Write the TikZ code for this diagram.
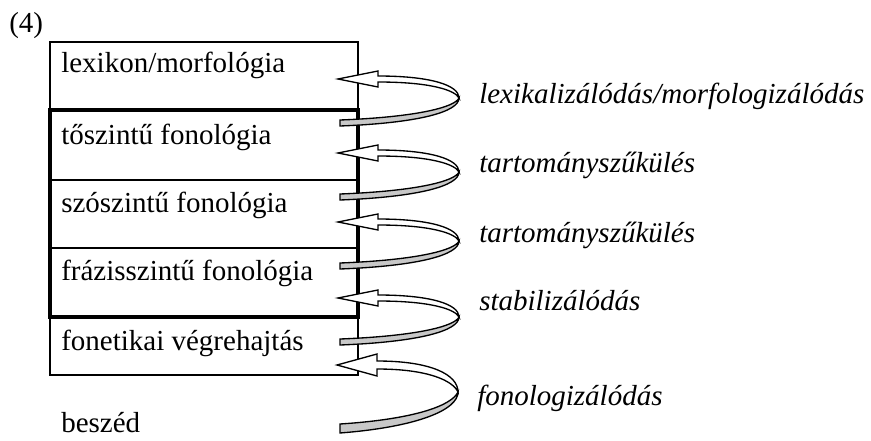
\documentclass[tikz,border=0pt]{standalone}
\usepackage{fontspec}
\setmainfont{Liberation Serif}
\definecolor{ribbongrey}{RGB}{200,200,200}
\begin{document}
\begin{tikzpicture}[x=0.75pt,y=0.75pt,yscale=-1,xscale=1]
\useasboundingbox (0,0) rectangle (871,440);
\fontsize{21.75}{26}\selectfont

%Shape: Rectangle
\draw [line width=1.5]  (50,42) rectangle (358,375) ;
%Straight Lines
\draw [line width=1.5]    (50,180) -- (358,180) ;
%Straight Lines
\draw [line width=1.5]    (50,248) -- (358,248) ;
%Shape: Rectangle
\draw [line width=3]  (50,110) rectangle (358,317) ;

%Shape: Curved Arrow
\draw [shift={(338,79)}][line width=1][fill=white] (0,0) -- (40,-8) -- (40,-3) .. controls (92,-3) and (121,6) .. (121,19) .. controls (117,11) and (92,3) .. (40,3) -- (40,8) -- cycle ;
\draw [shift={(338,79)}][line width=1][fill=ribbongrey] (121,19) .. controls (121,33) and (80,44) .. (2,47) -- (2,41) .. controls (80,38) and (117,28) .. (121,19) -- cycle ;
%Shape: Curved Arrow
\draw [shift={(338,153)}][line width=1][fill=white] (0,0) -- (40,-8) -- (40,-3) .. controls (92,-3) and (121,6) .. (121,19) .. controls (117,11) and (92,3) .. (40,3) -- (40,8) -- cycle ;
\draw [shift={(338,153)}][line width=1][fill=ribbongrey] (121,19) .. controls (121,33) and (80,44) .. (2,47) -- (2,41) .. controls (80,38) and (117,28) .. (121,19) -- cycle ;
%Shape: Curved Arrow
\draw [shift={(338,222)}][line width=1][fill=white] (0,0) -- (40,-8) -- (40,-3) .. controls (92,-3) and (121,6) .. (121,19) .. controls (117,11) and (92,3) .. (40,3) -- (40,8) -- cycle ;
\draw [shift={(338,222)}][line width=1][fill=ribbongrey] (121,19) .. controls (121,33) and (80,44) .. (2,47) -- (2,41) .. controls (80,38) and (117,28) .. (121,19) -- cycle ;
%Shape: Curved Arrow
\draw [shift={(338,298)}][line width=1][fill=white] (0,0) -- (40,-8) -- (40,-3) .. controls (92,-3) and (121,6) .. (121,19) .. controls (117,11) and (92,3) .. (40,3) -- (40,8) -- cycle ;
\draw [shift={(338,298)}][line width=1][fill=ribbongrey] (121,19) .. controls (121,33) and (80,44) .. (2,47) -- (2,41) .. controls (80,38) and (117,28) .. (121,19) -- cycle ;
%Shape: Curved Arrow
\draw [shift={(337,365)}][line width=1][fill=white] (0,0) -- (40,-11) -- (40,-4) .. controls (95,-4) and (121,10) .. (121,27) .. controls (116,16) and (92,4) .. (40,4) -- (40,11) -- cycle ;
\draw [shift={(337,365)}][line width=1][fill=ribbongrey] (121,27) .. controls (121,45) and (80,62) .. (3,68) -- (3,59) .. controls (80,54) and (115,40) .. (121,27) -- cycle ;

% Text Node
\draw (8,32) node [anchor=base west][inner sep=0.75pt] (num) {(4)};
% Text Node
\draw (60,72) node [anchor=base west][inner sep=0.75pt] (lexmorf) {lexikon/morfológia};
% Text Node
\draw (60,144) node [anchor=base west][inner sep=0.75pt] (toszint) {tőszintű fonológia};
% Text Node
\draw (60,212) node [anchor=base west][inner sep=0.75pt] (szoszint) {szószintű fonológia};
% Text Node
\draw (60,280) node [anchor=base west][inner sep=0.75pt] (frazis) {frázisszintű fonológia};
% Text Node
\draw (60,350) node [anchor=base west][inner sep=0.75pt] (fonetik) {fonetikai végrehajtás};
% Text Node
\draw (60,432) node [anchor=base west][inner sep=0.75pt] (beszed) {beszéd};
% Text Node
\draw (478,103) node [anchor=base west][inner sep=0.75pt] (lexizal) {\itshape lexikalizálódás/morfologizálódás};
% Text Node
\draw (478,172) node [anchor=base west][inner sep=0.75pt] (szukul1) {\itshape tartományszűkülés};
% Text Node
\draw (478,242) node [anchor=base west][inner sep=0.75pt] (szukul2) {\itshape tartományszűkülés};
% Text Node
\draw (478,310) node [anchor=base west][inner sep=0.75pt] (stabil) {\itshape stabilizálódás};
% Text Node
\draw (476,405) node [anchor=base west][inner sep=0.75pt] (fonolog) {\itshape fonologizálódás};

\end{tikzpicture}
\end{document}
